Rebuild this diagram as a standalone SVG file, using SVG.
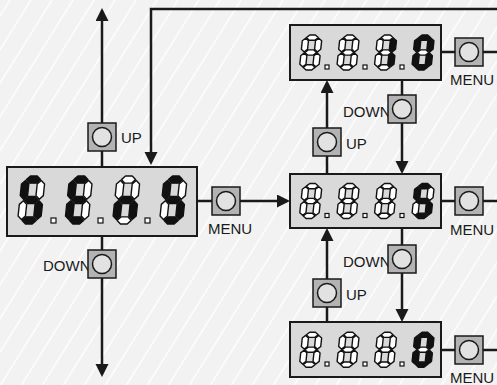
<svg xmlns="http://www.w3.org/2000/svg" xmlns:xlink="http://www.w3.org/1999/xlink" width="497" height="385" viewBox="0 0 497 385">
<style>
.bg{fill:#f2f2f2}
.line{fill:none;stroke:#1a1a1a;stroke-width:2.5}
.disp{fill:#d9d9d9;stroke:#1a1a1a;stroke-width:2}
.btn{fill:#b3b3b3;stroke:#1a1a1a;stroke-width:1.5}
.knob{fill:#e2e2e2;stroke:#1a1a1a;stroke-width:1.5}
.on{fill:#111;stroke:#111}
.off{fill:#fff;stroke:#111}
.dp{fill:#fff;stroke:#111;stroke-width:1.2}
.lbl{font-family:"Liberation Sans",Arial,sans-serif;font-size:15px;fill:#1a1a1a}
</style>
<defs>
<pattern id="stripes" patternUnits="userSpaceOnUse" width="21" height="21" patternTransform="skewX(-32)">
<rect width="21" height="21" fill="#f2f2f2"/>
<line x1="10" y1="0" x2="10" y2="21" stroke="#ffffff" stroke-width="1.6"/>
</pattern>
<marker id="arr" markerUnits="userSpaceOnUse" markerWidth="14" markerHeight="14" refX="10" refY="6.5" orient="auto">
<path d="M0,0 L13,6.5 L0,13 z" fill="#1a1a1a"/>
</marker>
<polygon id="sa" points="0.8,0 4.3,-3.5 10.7,-3.5 14.2,0 10.7,3.5 4.3,3.5" vector-effect="non-scaling-stroke" stroke-width="1.4" stroke-linejoin="round"/>
<polygon id="sg" points="0.8,20 4.3,16.5 10.7,16.5 14.2,20 10.7,23.5 4.3,23.5" vector-effect="non-scaling-stroke" stroke-width="1.4" stroke-linejoin="round"/>
<polygon id="sd" points="0.8,40 4.3,36.5 10.7,36.5 14.2,40 10.7,43.5 4.3,43.5" vector-effect="non-scaling-stroke" stroke-width="1.4" stroke-linejoin="round"/>
<polygon id="sf" points="0,0.8 3.5,4.3 3.5,15.7 0,19.2 -3.5,15.7 -3.5,4.3" vector-effect="non-scaling-stroke" stroke-width="1.4" stroke-linejoin="round"/>
<polygon id="sb" points="15,0.8 18.5,4.3 18.5,15.7 15,19.2 11.5,15.7 11.5,4.3" vector-effect="non-scaling-stroke" stroke-width="1.4" stroke-linejoin="round"/>
<polygon id="se" points="0,20.8 3.5,24.3 3.5,35.7 0,39.2 -3.5,35.7 -3.5,24.3" vector-effect="non-scaling-stroke" stroke-width="1.4" stroke-linejoin="round"/>
<polygon id="sc" points="15,20.8 18.5,24.3 18.5,35.7 15,39.2 11.5,35.7 11.5,24.3" vector-effect="non-scaling-stroke" stroke-width="1.4" stroke-linejoin="round"/>
<g id="d8"><use href="#sa" class="off"/><use href="#sb" class="off"/><use href="#sc" class="off"/><use href="#sd" class="off"/><use href="#se" class="off"/><use href="#sf" class="off"/><use href="#sg" class="off"/></g>
<g id="dS"><use href="#sa" class="on"/><use href="#sb" class="off"/><use href="#sc" class="on"/><use href="#sd" class="on"/><use href="#se" class="off"/><use href="#sf" class="on"/><use href="#sg" class="on"/></g>
<g id="dE"><use href="#sa" class="on"/><use href="#sb" class="off"/><use href="#sc" class="off"/><use href="#sd" class="on"/><use href="#se" class="on"/><use href="#sf" class="on"/><use href="#sg" class="on"/></g>
<g id="dn"><use href="#sa" class="off"/><use href="#sb" class="off"/><use href="#sc" class="on"/><use href="#sd" class="off"/><use href="#se" class="on"/><use href="#sf" class="off"/><use href="#sg" class="on"/></g>
<g id="d1"><use href="#sa" class="off"/><use href="#sb" class="on"/><use href="#sc" class="on"/><use href="#sd" class="off"/><use href="#se" class="off"/><use href="#sf" class="off"/><use href="#sg" class="off"/></g>
<g id="d0"><use href="#sa" class="on"/><use href="#sb" class="on"/><use href="#sc" class="on"/><use href="#sd" class="on"/><use href="#se" class="on"/><use href="#sf" class="on"/><use href="#sg" class="off"/></g>
</defs>

<rect width="497" height="385" fill="url(#stripes)"/>

<g id="connectors">
<path class="line" d="M102,167 V11" marker-end="url(#arr)"/>
<path class="line" d="M102,236 V374" marker-end="url(#arr)"/>
<path class="line" d="M497,9 H151 V162" marker-end="url(#arr)"/>
<path class="line" d="M197,201 H287" marker-end="url(#arr)"/>
<path class="line" d="M441,52 H497"/>
<path class="line" d="M441,201 H497"/>
<path class="line" d="M441,350 H497"/>
<path class="line" d="M402,80 V171" marker-end="url(#arr)"/>
<path class="line" d="M327,174 V83" marker-end="url(#arr)"/>
<path class="line" d="M402,228 V319" marker-end="url(#arr)"/>
<path class="line" d="M327,322 V231" marker-end="url(#arr)"/>
</g>

<g id="display-main">
<rect class="disp" x="7" y="167" width="190" height="69"/>
<use href="#dS" transform="translate(25.6,179.6) skewX(-6) scale(1.05,1.02)"/>
<use href="#dE" transform="translate(73,179.6) skewX(-6) scale(1.05,1.02)"/>
<use href="#dn" transform="translate(120.6,179.6) skewX(-6) scale(1.05,1.02)"/>
<use href="#dS" transform="translate(167.6,179.6) skewX(-6) scale(1.05,1.02)"/>
<rect class="dp" x="51" y="218" width="5" height="5"/>
<rect class="dp" x="98" y="218" width="5" height="5"/>
<rect class="dp" x="145" y="218" width="5" height="5"/>
</g>

<g id="display-top">
<rect class="disp" x="290" y="25" width="151" height="55"/>
<use href="#d8" transform="translate(305.7,37.6) skewX(-6) scale(0.88,0.745)"/>
<use href="#d8" transform="translate(343,37.6) skewX(-6) scale(0.88,0.745)"/>
<use href="#d1" transform="translate(380.5,37.6) skewX(-6) scale(0.88,0.745)"/>
<use href="#d0" transform="translate(418,37.6) skewX(-6) scale(0.88,0.745)"/>
<rect class="dp" x="325" y="65" width="4" height="4"/>
<rect class="dp" x="363" y="65" width="4" height="4"/>
<rect class="dp" x="400" y="65" width="4" height="4"/>
</g>

<g id="display-mid">
<rect class="disp" x="290" y="174" width="151" height="54"/>
<use href="#d8" transform="translate(305.7,186.1) skewX(-6) scale(0.88,0.745)"/>
<use href="#d8" transform="translate(343,186.1) skewX(-6) scale(0.88,0.745)"/>
<use href="#d8" transform="translate(380.5,186.1) skewX(-6) scale(0.88,0.745)"/>
<use href="#dS" transform="translate(418,186.1) skewX(-6) scale(0.88,0.745)"/>
<rect class="dp" x="325" y="213.5" width="4" height="4"/>
<rect class="dp" x="363" y="213.5" width="4" height="4"/>
<rect class="dp" x="400" y="213.5" width="4" height="4"/>
</g>

<g id="display-bottom">
<rect class="disp" x="290" y="322" width="151" height="55"/>
<use href="#d8" transform="translate(305.7,334.8) skewX(-6) scale(0.88,0.745)"/>
<use href="#d8" transform="translate(343,334.8) skewX(-6) scale(0.88,0.745)"/>
<use href="#d8" transform="translate(380.5,334.8) skewX(-6) scale(0.88,0.745)"/>
<use href="#d0" transform="translate(418,334.8) skewX(-6) scale(0.88,0.745)"/>
<rect class="dp" x="325" y="362" width="4" height="4"/>
<rect class="dp" x="363" y="362" width="4" height="4"/>
<rect class="dp" x="400" y="362" width="4" height="4"/>
</g>

<g id="btn-left-up">
<rect class="btn" x="88" y="123" width="28" height="28"/>
<circle class="knob" cx="102" cy="137" r="9.5"/>
<text class="lbl" x="121" y="143">UP</text>
</g>
<g id="btn-left-down">
<text class="lbl" x="43" y="271">DOWN</text>
<rect class="btn" x="88" y="250" width="28" height="28"/>
<circle class="knob" cx="102" cy="264" r="9.5"/>
</g>
<g id="btn-left-menu">
<rect class="btn" x="212" y="187" width="28" height="28"/>
<circle class="knob" cx="226" cy="201" r="9.5"/>
<text class="lbl" x="208" y="234">MENU</text>
</g>
<g id="btn-top-down">
<text class="lbl" x="343" y="117">DOWN</text>
<rect class="btn" x="388" y="95" width="28" height="28"/>
<circle class="knob" cx="402" cy="109" r="9.5"/>
</g>
<g id="btn-top-up">
<rect class="btn" x="313" y="128" width="28" height="28"/>
<circle class="knob" cx="327" cy="142" r="9.5"/>
<text class="lbl" x="346" y="149">UP</text>
</g>
<g id="btn-mid-down">
<text class="lbl" x="343" y="267">DOWN</text>
<rect class="btn" x="388" y="245" width="28" height="28"/>
<circle class="knob" cx="402" cy="259" r="9.5"/>
</g>
<g id="btn-mid-up">
<rect class="btn" x="313" y="279" width="28" height="28"/>
<circle class="knob" cx="327" cy="293" r="9.5"/>
<text class="lbl" x="346" y="300">UP</text>
</g>
<g id="btn-menu-top">
<rect class="btn" x="455" y="38" width="28" height="28"/>
<circle class="knob" cx="469" cy="52" r="9.5"/>
<text class="lbl" x="450" y="85">MENU</text>
</g>
<g id="btn-menu-mid">
<rect class="btn" x="455" y="187" width="28" height="28"/>
<circle class="knob" cx="469" cy="201" r="9.5"/>
<text class="lbl" x="450" y="235">MENU</text>
</g>
<g id="btn-menu-bottom">
<rect class="btn" x="455" y="336" width="28" height="28"/>
<circle class="knob" cx="469" cy="350" r="9.5"/>
<text class="lbl" x="450" y="383">MENU</text>
</g>
</svg>
